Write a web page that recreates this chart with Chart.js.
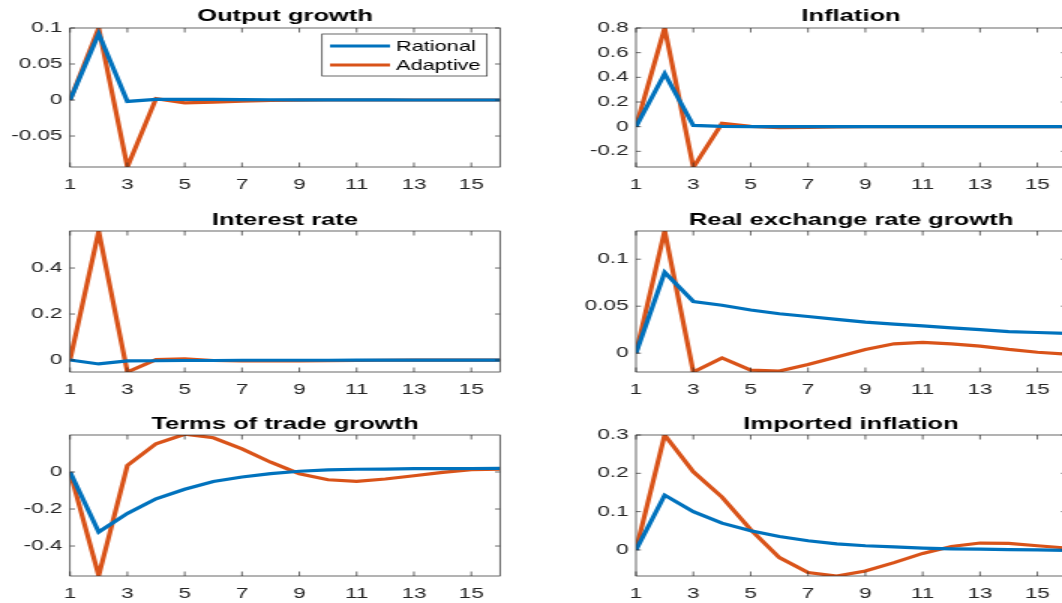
<!DOCTYPE html>
<html>
<head>
<meta charset="utf-8">
<script src="https://cdn.jsdelivr.net/npm/chart.js@4/dist/chart.umd.min.js"></script>
<style>
  html, body { margin: 0; padding: 0; background: #fff; overflow: hidden; }
  body { width: 1062px; height: 603px; position: relative; }
  /* the reference figure is stretched horizontally, so each panel is too */
  .panel { position: absolute; transform-origin: 0 0; transform: scaleX(1.5); }
  canvas { display: block; }
</style>
</head>
<body>
<div class="panel" style="left:0px;top:0px"><canvas id="c1" width="354" height="200"></canvas></div>
<div class="panel" style="left:540px;top:0px"><canvas id="c2" width="354" height="200"></canvas></div>
<div class="panel" style="left:0px;top:200px"><canvas id="c3" width="354" height="200"></canvas></div>
<div class="panel" style="left:540px;top:200px"><canvas id="c4" width="354" height="200"></canvas></div>
<div class="panel" style="left:0px;top:400px"><canvas id="c5" width="354" height="203"></canvas></div>
<div class="panel" style="left:540px;top:400px"><canvas id="c6" width="354" height="203"></canvas></div>
<script>
// ============================================================================
// DATA
// ============================================================================

const periods = [1, 2, 3, 4, 5, 6, 7, 8, 9, 10, 11, 12, 13, 14, 15, 16];
const xTicks = [1, 3, 5, 7, 9, 11, 13, 15];
const seriesNames = ['Rational', 'Adaptive'];

const outputRational = [0, 0.092, -0.002, 0.001, 0.001, 0.0008, 0.0006, 0.0004, 0.0003, 0.0002, 0.0001, 0.0001, 0, 0, 0, 0];
const outputAdaptive = [0, 0.1, -0.093, 0.002, -0.004, -0.003, -0.0015, -0.0007, -0.0002, 0, 0, 0, 0, 0, 0, 0];
const outputTicks = [-0.05, 0, 0.05, 0.1];
const outputRange = [-0.093, 0.1];

const inflationRational = [0, 0.43, 0.01, 0.002, 0, 0, 0, 0, 0, 0, 0, 0, 0, 0, 0, 0];
const inflationAdaptive = [0, 0.8, -0.33, 0.027, 0.003, -0.008, -0.005, -0.002, 0, 0, 0, 0, 0, 0, 0, 0];
const inflationTicks = [-0.2, 0, 0.2, 0.4, 0.6, 0.8];
const inflationRange = [-0.327, 0.8];

const interestRational = [0, -0.017, -0.004, -0.003, -0.002, -0.002, -0.001, -0.001, -0.001, -0.001, 0, 0, 0, 0, 0, 0];
const interestAdaptive = [0, 0.56, -0.052, 0.002, 0.005, -0.002, -0.004, -0.004, -0.004, -0.003, -0.002, -0.001, 0, 0, 0, 0];
const interestTicks = [0, 0.2, 0.4];
const interestRange = [-0.052, 0.561];

const rerRational = [0, 0.086, 0.055, 0.051, 0.046, 0.042, 0.039, 0.036, 0.033, 0.031, 0.029, 0.027, 0.025, 0.023, 0.022, 0.021];
const rerAdaptive = [0, 0.13, -0.02, -0.005, -0.018, -0.019, -0.012, -0.004, 0.004, 0.010, 0.0115, 0.010, 0.0075, 0.004, 0.001, -0.001];
const rerTicks = [0, 0.05, 0.1];
const rerRange = [-0.02, 0.13];

const totRational = [0, -0.324, -0.224, -0.145, -0.093, -0.051, -0.027, -0.009, 0.004, 0.011, 0.015, 0.016, 0.018, 0.018, 0.019, 0.02];
const totAdaptive = [0, -0.56, 0.035, 0.153, 0.204, 0.185, 0.125, 0.053, -0.009, -0.042, -0.051, -0.038, -0.02, -0.002, 0.013, 0.016];
const totTicks = [-0.4, -0.2, 0];
const totRange = [-0.562, 0.2];

const importRational = [0, 0.143, 0.1, 0.07, 0.05, 0.035, 0.024, 0.016, 0.011, 0.008, 0.005, 0.003, 0.002, 0.001, 0, -0.001];
const importAdaptive = [0, 0.3, 0.204, 0.138, 0.053, -0.02, -0.059, -0.068, -0.055, -0.033, -0.009, 0.009, 0.018, 0.017, 0.011, 0.005];
const importTicks = [0, 0.1, 0.2, 0.3];
const importRange = [-0.068, 0.3];

// ============================================================================
// LAYOUT (panel coordinates, before the 1.5x horizontal stretch)
// ============================================================================

const rows = [
    { plotTop: 28, plotBottom: 167, titleBase: 20.5 },
    { plotTop: 31, plotBottom: 172, titleBase: 24.5 },
    { plotTop: 35, plotBottom: 176, titleBase: 28.5 }
];
const cols = [
    { plotLeft: 46.7, plotRight: 333.3 },
    { plotLeft: 64, plotRight: 350.7 }
];

const BLUE = '#0072BD';
const ORANGE = '#D95319';
const AXIS = '#262626';
const FONT = "'Liberation Sans', Arial, Helvetica, sans-serif";

// ============================================================================
// PLUGINS
// ============================================================================

// box round the axes with inward tick marks on all four sides
const boxPlugin = {
    id: 'matlabBox',
    afterDatasetsDraw(chart) {
        const { ctx, chartArea: a, scales } = chart;
        ctx.save();
        ctx.strokeStyle = AXIS;
        ctx.lineWidth = 0.7;
        ctx.strokeRect(a.left, a.top, a.right - a.left, a.bottom - a.top);
        ctx.beginPath();
        scales.x.ticks.forEach(t => {
            const px = scales.x.getPixelForValue(t.value);
            ctx.moveTo(px, a.bottom); ctx.lineTo(px, a.bottom - 4.5);
            ctx.moveTo(px, a.top); ctx.lineTo(px, a.top + 4.5);
        });
        scales.y.ticks.forEach(t => {
            const py = scales.y.getPixelForValue(t.value);
            ctx.moveTo(a.left, py); ctx.lineTo(a.left + 3.3, py);
            ctx.moveTo(a.right, py); ctx.lineTo(a.right - 3.3, py);
        });
        ctx.stroke();
        ctx.restore();
    }
};

const titlePlugin = {
    id: 'panelTitle',
    afterDraw(chart, args, opts) {
        const { ctx, chartArea: a } = chart;
        ctx.save();
        ctx.font = 'bold 17px ' + FONT;
        ctx.fillStyle = '#000';
        ctx.textAlign = 'center';
        ctx.textBaseline = 'alphabetic';
        ctx.fillText(opts.text, (a.left + a.right) / 2, opts.base);
        ctx.restore();
    }
};

const legendPlugin = {
    id: 'boxLegend',
    afterDraw(chart, args, opts) {
        if (!opts.show) return;
        const { ctx } = chart;
        ctx.save();
        ctx.fillStyle = '#fff';
        ctx.fillRect(214.7, 34, 110, 42);
        ctx.strokeStyle = AXIS;
        ctx.lineWidth = 0.7;
        ctx.strokeRect(214.7, 34, 110, 42);
        ctx.font = '14.5px ' + FONT;
        ctx.textBaseline = 'middle';
        ctx.textAlign = 'left';
        chart.data.datasets.forEach((ds, i) => {
            const y = 46 + i * 19;
            ctx.strokeStyle = ds.borderColor;
            ctx.lineWidth = 3;
            ctx.beginPath();
            ctx.moveTo(220, y); ctx.lineTo(260, y);
            ctx.stroke();
            ctx.fillStyle = '#000';
            ctx.fillText(ds.label, 264, y + 1);
        });
        ctx.restore();
    }
};

// ============================================================================
// PANELS
// ============================================================================

function makePanel(id, title, rational, adaptive, yTicks, yRange, row, col, showLegend) {
    const canvas = document.getElementById(id);
    const toPoints = vals => periods.map((p, i) => ({ x: p, y: vals[i] }));
    return new Chart(canvas.getContext('2d'), {
        type: 'line',
        data: {
            datasets: [
                { label: seriesNames[0], data: toPoints(rational), borderColor: BLUE },
                { label: seriesNames[1], data: toPoints(adaptive), borderColor: ORANGE }
            ]
        },
        options: {
            responsive: false,
            animation: false,
            events: [],
            elements: {
                line: { borderWidth: 3.2, tension: 0, fill: false, borderJoinStyle: 'miter' },
                point: { radius: 0 }
            },
            layout: {
                padding: { top: row.plotTop, left: 0, bottom: 0, right: canvas.width - col.plotRight }
            },
            scales: {
                x: {
                    type: 'linear',
                    min: 1,
                    max: 16,
                    grid: { display: false, drawTicks: false },
                    border: { display: false },
                    afterBuildTicks: s => { s.ticks = xTicks.map(v => ({ value: v })); },
                    afterFit: s => { s.height = canvas.height - row.plotBottom; },
                    ticks: {
                        autoSkip: false,
                        maxRotation: 0,
                        padding: 9,
                        color: AXIS,
                        font: { family: FONT, size: 15 },
                        callback: v => String(v)
                    }
                },
                y: {
                    type: 'linear',
                    min: yRange[0],
                    max: yRange[1],
                    grid: { display: false, drawTicks: false },
                    border: { display: false },
                    afterBuildTicks: s => { s.ticks = yTicks.map(v => ({ value: v })); },
                    afterFit: s => { s.width = col.plotLeft; },
                    ticks: {
                        autoSkip: false,
                        padding: 5,
                        color: AXIS,
                        font: { family: FONT, size: 15 },
                        callback: v => String(v)
                    }
                }
            },
            plugins: {
                legend: { display: false },
                tooltip: { enabled: false },
                panelTitle: { text: title, base: row.titleBase },
                boxLegend: { show: showLegend }
            }
        },
        plugins: [boxPlugin, titlePlugin, legendPlugin]
    });
}

makePanel('c1', 'Output growth', outputRational, outputAdaptive, outputTicks, outputRange, rows[0], cols[0], true);
makePanel('c2', 'Inflation', inflationRational, inflationAdaptive, inflationTicks, inflationRange, rows[0], cols[1], false);
makePanel('c3', 'Interest rate', interestRational, interestAdaptive, interestTicks, interestRange, rows[1], cols[0], false);
makePanel('c4', 'Real exchange rate growth', rerRational, rerAdaptive, rerTicks, rerRange, rows[1], cols[1], false);
makePanel('c5', 'Terms of trade growth', totRational, totAdaptive, totTicks, totRange, rows[2], cols[0], false);
makePanel('c6', 'Imported inflation', importRational, importAdaptive, importTicks, importRange, rows[2], cols[1], false);
</script>
</body>
</html>
